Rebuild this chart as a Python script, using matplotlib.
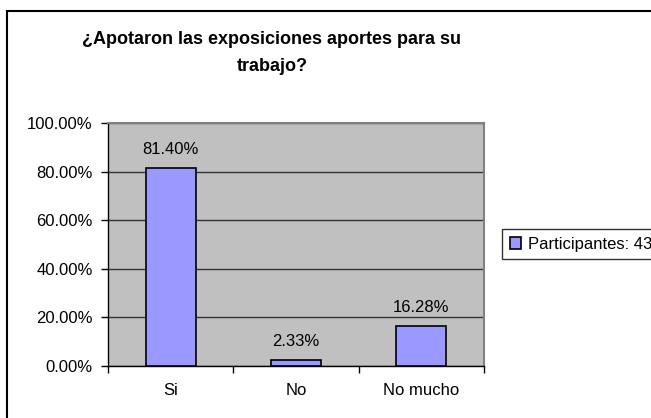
import numpy as np
import matplotlib
matplotlib.use('Agg')
import matplotlib.pyplot as plt
from matplotlib.patches import Rectangle
from matplotlib.ticker import FuncFormatter, FixedLocator

categories = ['Si', 'No', 'No mucho']
values = [0.8140, 0.0233, 0.1628]
series_name = 'Participantes: 43'
title = '¿Apotaron las exposiciones aportes para su\ntrabajo?'

plt.rcParams['font.family'] = ['Liberation Sans', 'DejaVu Sans']

fig = plt.figure(figsize=(6.51, 4.18), dpi=100)
ax = fig.add_axes([108 / 651, 52 / 418, 376 / 651, 243 / 418])

x = np.arange(len(categories))
bars = ax.bar(x, values, width=0.4, color='#9999FF', edgecolor='black',
              linewidth=1.2, label=series_name, zorder=3)

for b, v in zip(bars, values):
    ax.annotate(f'{v:.2%}', (b.get_x() + b.get_width() / 2, v),
                xytext=(0, 8), textcoords='offset points',
                ha='center', va='bottom', fontsize=12)

ax.set_facecolor('#C0C0C0')
ax.set_xlim(-0.5, len(categories) - 0.5)
ax.set_ylim(0, 1)
ax.set_yticks(np.arange(0, 1.01, 0.2))
ax.yaxis.set_major_formatter(FuncFormatter(lambda v, p: f'{v:.2%}'))
ax.grid(axis='y', color='#333333', linewidth=1, zorder=1)

ax.set_xticks(x)
ax.set_xticklabels(categories)
ax.tick_params(axis='x', which='major', length=0, pad=12, labelsize=12)
ax.xaxis.set_minor_locator(FixedLocator(np.arange(-0.5, len(categories), 1)))
ax.tick_params(axis='x', which='minor', length=5, direction='out', width=1)
ax.tick_params(axis='y', length=5, direction='out', width=1, labelsize=12, pad=6)

for s in ['top', 'right']:
    ax.spines[s].set_color('#808080')
    ax.spines[s].set_linewidth(1.5)
for s in ['left', 'bottom']:
    ax.spines[s].set_color('black')
    ax.spines[s].set_linewidth(1)

fig.text(272 / 651, 1 - 53 / 418, title, ha='center', va='center',
         fontsize=13, fontweight='bold', linespacing=1.8)

leg = fig.legend(handles=[bars], labels=[series_name], loc='center left',
                 bbox_to_anchor=(502 / 651, 1 - 244 / 418), fontsize=12,
                 frameon=True, fancybox=False, handlelength=0.7,
                 handleheight=0.7, handletextpad=0.4, borderpad=0.45,
                 borderaxespad=0)
leg.get_frame().set_edgecolor('black')
leg.get_frame().set_linewidth(1)

fig.patches.append(Rectangle((7 / 651, -0.1), 2, 1.1 - 11 / 418,
                             transform=fig.transFigure, fill=False,
                             edgecolor='black', linewidth=1.5))

fig.savefig('out.png', dpi=100)
